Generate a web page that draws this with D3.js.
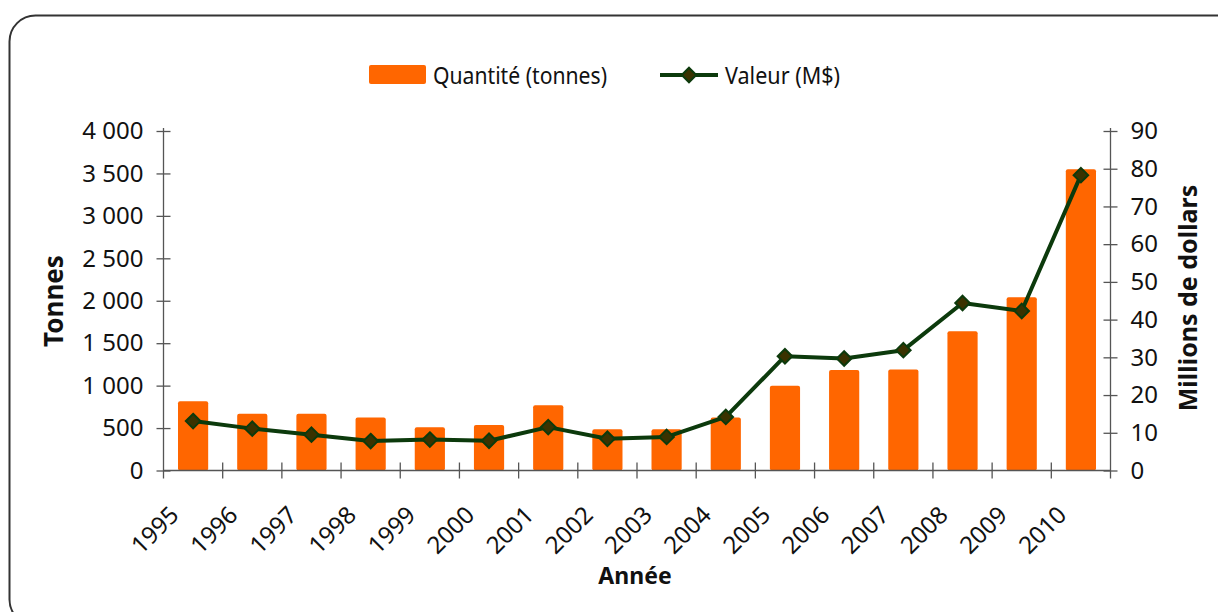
<!DOCTYPE html>
<html><head><meta charset="utf-8">
<script src="https://cdn.jsdelivr.net/npm/d3@7"></script>
<style>body{margin:0;background:#fff}svg{display:block;font-family:"Noto Sans",sans-serif}</style>
</head><body><svg id="c" width="1218" height="612"></svg>
<script>
const years = ["1995","1996","1997","1998","1999","2000","2001","2002","2003","2004","2005","2006","2007","2008","2009","2010"];
const tonnes = [815,670,670,625,510,535,770,485,485,625,1000,1185,1190,1640,2040,3550];
const valeurs = [13.1,11.1,9.5,7.8,8.2,7.9,11.5,8.4,8.9,14.2,30.3,29.7,31.9,44.4,42.3,78.3];
const leftTicks = [0,500,1000,1500,2000,2500,3000,3500,4000];
const rightTicks = [0,10,20,30,40,50,60,70,80,90];
const legendLabels = ["Quantité (tonnes)","Valeur (M$)"];

const svg = d3.select("#c");
const L = 163.5, R = 1110.5, T = 131, B = 470.5;
const x = d3.scaleBand().domain(years).range([L, R]).paddingInner(0.49).paddingOuter(0.245);
const xb = d3.scaleBand().domain(years).range([L, R]);
const yL = d3.scaleLinear().domain([0,4000]).range([B, T]);
const yR = d3.scaleLinear().domain([0,90]).range([B, T]);
const axisCol = "#555";
const txtCol = "#111";

// frame
svg.append("rect").attr("x",9.5).attr("y",15.5).attr("width",1240).attr("height",610)
  .attr("rx",26).attr("fill","none").attr("stroke","#333").attr("stroke-width",2);

// bars
svg.append("g").selectAll("rect").data(years).join("rect")
  .attr("x", d=>x(d)).attr("width", x.bandwidth())
  .attr("y", (d,i)=>yL(tonnes[i])).attr("height",(d,i)=>B-yL(tonnes[i]))
  .attr("rx",2).attr("fill","#ff6600");

// axes
const fmt = d => d3.format(",")(d).replace(/,/g," ");
const gl = svg.append("g").attr("transform",`translate(${L},0)`)
  .call(d3.axisLeft(yL).tickValues(leftTicks).tickFormat(fmt).tickSize(7).tickPadding(13));
gl.selectAll(".tick line").attr("x2",-7).attr("x1",7);
const gr = svg.append("g").attr("transform",`translate(${R},0)`)
  .call(d3.axisRight(yR).tickValues(rightTicks).tickSize(7).tickPadding(13));
gr.selectAll(".tick line").attr("x2",7).attr("x1",-7);
[gl,gr].forEach(g=>{
  g.select(".domain").attr("stroke",axisCol).attr("stroke-width",1.3).attr("d",`M0,${T-3}V${B+8}`);
  g.selectAll(".tick line").attr("stroke",axisCol).attr("stroke-width",1.3);
  g.selectAll(".tick text").attr("font-size",24).attr("fill",txtCol).attr("font-family","Noto Sans");
});
// x axis line
svg.append("line").attr("x1",L).attr("x2",R).attr("y1",B).attr("y2",B).attr("stroke",axisCol).attr("stroke-width",1.3);
svg.append("g").selectAll("line").data(years.slice(1)).join("line")
  .attr("x1",d=>xb(d)).attr("x2",d=>xb(d)).attr("y1",B-8).attr("y2",B+8)
  .attr("stroke",axisCol).attr("stroke-width",1.3);
svg.append("g").selectAll("text").data(years).join("text")
  .attr("transform",d=>`translate(${xb(d)+xb.bandwidth()/2-13},${B+46}) rotate(-45)`)
  .attr("text-anchor","end").attr("font-size",24).attr("fill",txtCol).text(d=>d);

// line
const lineCol = "#0c3a0c";
const line = d3.line().x((d,i)=>xb(years[i])+xb.bandwidth()/2).y(d=>yR(d));
svg.append("path").datum(valeurs).attr("d",line).attr("fill","none").attr("stroke",lineCol).attr("stroke-width",4).attr("stroke-linejoin","round");
const diamond = d3.symbol().type(d3.symbolDiamond2).size(135);
svg.append("g").selectAll("path").data(valeurs).join("path")
  .attr("transform",(d,i)=>`translate(${xb(years[i])+xb.bandwidth()/2},${yR(d)})`)
  .attr("d",diamond).attr("fill","#3a3200").attr("stroke",lineCol).attr("stroke-width",2);

// axis titles
svg.append("text").attr("transform",`translate(63,301) rotate(-90)`).attr("text-anchor","middle")
  .attr("font-size",26).attr("font-weight","bold").attr("fill",txtCol).text("Tonnes");
svg.append("text").attr("transform",`translate(1197,298) rotate(-90)`).attr("text-anchor","middle")
  .attr("font-size",25).attr("font-weight","bold").attr("fill",txtCol).text("Millions de dollars");
svg.append("text").attr("x",635).attr("y",584).attr("text-anchor","middle")
  .attr("font-size",23).attr("font-weight","bold").attr("fill",txtCol).text("Année");

// legend
const lg = svg.append("g");
lg.append("rect").attr("x",369).attr("y",65).attr("width",57).attr("height",19).attr("rx",2).attr("fill","#ff6600");
lg.append("text").attr("x",433).attr("y",84).attr("font-size",23).attr("fill",txtCol)
  .attr("textLength",174).attr("lengthAdjust","spacingAndGlyphs").text(legendLabels[0]);
lg.append("line").attr("x1",660).attr("x2",718).attr("y1",75).attr("y2",75).attr("stroke",lineCol).attr("stroke-width",4);
lg.append("path").attr("transform","translate(689,75)").attr("d",diamond).attr("fill","#3a3200").attr("stroke",lineCol).attr("stroke-width",2);
lg.append("text").attr("x",725).attr("y",84).attr("font-size",23).attr("fill",txtCol)
  .attr("textLength",115).attr("lengthAdjust","spacingAndGlyphs").text(legendLabels[1]);
</script></body></html>
